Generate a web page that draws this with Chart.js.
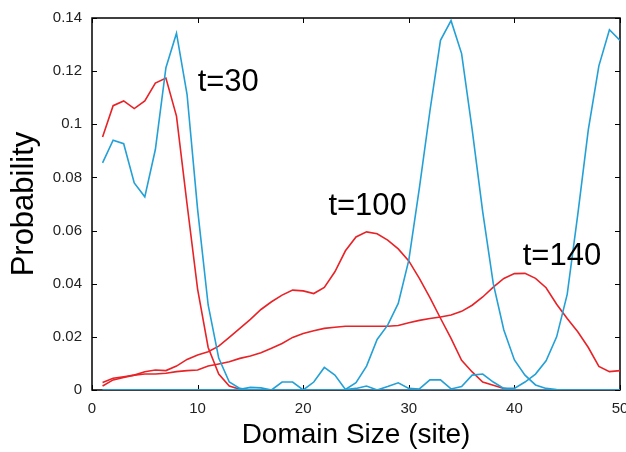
<!DOCTYPE html>
<html>
<head>
<meta charset="utf-8">
<script src="https://cdn.jsdelivr.net/npm/chart.js@4.4.0/dist/chart.umd.min.js"></script>
<style>
    html, body {margin: 0; padding: 0; background: #fff;}
    #wrap {width: 626px; height: 452px;}
</style>
</head>
<body>
<div id="wrap"><canvas id="myChart" width="626" height="452"></canvas></div>
<script>
// domain size (site) 1..50
const sites = [1,2,3,4,5,6,7,8,9,10,11,12,13,14,15,16,17,18,19,20,21,22,23,24,25,
    26,27,28,29,30,31,32,33,34,35,36,37,38,39,40,41,42,43,44,45,46,47,48,49,50];

const red30 = [0.0952,0.107,0.1088,0.1059,0.1088,0.1155,0.1174,0.1031,0.070,0.038,
    0.016,0.006,0.0015,0.0003,0,0,0,0,0,0, 0,0,0,0,0,0,0,0,0,0,
    0,0,0,0,0,0,0,0,0,0, 0,0,0,0,0,0,0,0,0,0];
const blue30 = [0.0855,0.094,0.0927,0.0779,0.0727,0.0905,0.1213,0.1343,0.1113,0.068,
    0.032,0.012,0.003,0.0006,0,0,0,0,0,0, 0,0,0,0,0,0,0,0,0,0,
    0,0,0,0,0,0,0,0,0,0, 0,0,0,0,0,0,0,0,0,0];

const red100 = [0.0028,0.0044,0.005,0.0056,0.0069,0.0075,0.0073,0.009,0.0115,0.0132,
    0.0144,0.0165,0.0198,0.0232,0.0266,0.0303,0.0332,0.0357,0.0376,0.0373,
    0.0363,0.0386,0.0445,0.0524,0.0576,0.0595,0.0588,0.0564,0.0531,0.0486,
    0.042,0.0348,0.027,0.0194,0.0112,0.0068,0.003,0.0018,0.0006,0.0001,
    0,0,0,0,0,0,0,0,0,0];
const blue100 = [0,0,0,0,0,0,0,0,0,0, 0,0,0,0.0003,0.001,0.0008,0,0.003,0.003,0,
    0.003,0.0085,0.0056,0.0002,0.0028,0.009,0.019,0.0244,0.0326,0.0489,
    0.076,0.105,0.1316,0.139,0.1266,0.098,0.067,0.040,0.0226,0.0113,
    0.0056,0.0019,0.0006,0.0002,0,0,0,0,0,0];

const red140 = [0.0015,0.0038,0.0047,0.0056,0.006,0.006,0.0063,0.0069,0.0073,0.0075,
    0.009,0.0098,0.0106,0.0119,0.0128,0.014,0.0157,0.0175,0.0198,0.0213,
    0.0223,0.0232,0.0236,0.024,0.024,0.024,0.024,0.024,0.0243,0.0253,
    0.0262,0.0269,0.0275,0.0282,0.0296,0.0319,0.035,0.0387,0.042,0.0438,
    0.0439,0.042,0.0385,0.0323,0.0269,0.0219,0.016,0.0089,0.0069,0.0073];
const blue140 = [0,0,0,0,0,0,0,0,0,0, 0,0,0,0,0,0,0,0,0,0,
    0,0,0,0.0002,0.0006,0.0015,0,0.0013,0.0027,0.0006,
    0.0004,0.0038,0.0038,0.0004,0.0013,0.0056,0.006,0.003,0.0006,0.0006,
    0.003,0.006,0.011,0.02,0.036,0.066,0.098,0.122,0.1356,0.1316];

const xTickLabels = ['0','10','20','30','40','50'];
const yTickLabels = ['0','0.02','0.04','0.06','0.08','0.1','0.12','0.14'];

// curve labels: text, x, y in data units
const curveLabels = [
    {text: 't=30', x: 12.9, y: 0.1158},
    {text: 't=100', x: 26.1, y: 0.0692},
    {text: 't=140', x: 44.5, y: 0.0503}
];

const RED = 'rgb(232,34,38)';
const BLUE = 'rgb(35,160,214)';
const FONT = "'Liberation Sans', Arial, Helvetica, sans-serif";

function series(values, color) {
    return {
        data: values.map((v, i) => ({x: sites[i], y: v})),
        borderColor: color,
        backgroundColor: color,
        borderWidth: 1.6,
        pointRadius: 0,
        tension: 0,
        fill: false
    };
}

// frame box + inward ticks on all four sides (under the curves), then curve labels
const framePlugin = {
    id: 'frame',
    beforeDatasetsDraw(chart) {
        const {ctx, chartArea: a, scales: {x, y}} = chart;
        ctx.save();
        ctx.strokeStyle = '#000';
        ctx.lineWidth = 1;
        ctx.beginPath();
        x.ticks.forEach(t => {
            const px = Math.round(x.getPixelForValue(t.value)) + 0.5;
            ctx.moveTo(px, a.bottom); ctx.lineTo(px, a.bottom - 5);
            ctx.moveTo(px, a.top); ctx.lineTo(px, a.top + 5);
        });
        y.ticks.forEach(t => {
            const py = Math.round(y.getPixelForValue(t.value)) + 0.5;
            ctx.moveTo(a.left, py); ctx.lineTo(a.left + 5, py);
            ctx.moveTo(a.right, py); ctx.lineTo(a.right - 5, py);
        });
        ctx.stroke();
        ctx.lineWidth = 1.5;
        ctx.strokeRect(a.left, a.top, a.right - a.left, a.bottom - a.top);
        ctx.restore();
    },
    afterDatasetsDraw(chart) {
        const {ctx, scales: {x, y}} = chart;
        ctx.save();
        ctx.fillStyle = '#000';
        ctx.font = '31px ' + FONT;
        ctx.textAlign = 'center';
        ctx.textBaseline = 'middle';
        curveLabels.forEach(l => {
            ctx.fillText(l.text, x.getPixelForValue(l.x), y.getPixelForValue(l.y));
        });
        ctx.restore();
    }
};

const ctx = document.getElementById('myChart').getContext('2d');
const myChart = new Chart(ctx, {
    type: 'line',
    data: {
        datasets: [
            series(blue30, BLUE),
            series(blue100, BLUE),
            series(blue140, BLUE),
            series(red30, RED),
            series(red100, RED),
            series(red140, RED)
        ]
    },
    options: {
        responsive: false,
        animation: false,
        layout: {padding: {top: 18, right: 6, left: 0, bottom: 0}},
        plugins: {legend: {display: false}, tooltip: {enabled: false}},
        scales: {
            x: {
                type: 'linear',
                min: 0, max: 50,
                grid: {display: false, drawTicks: false},
                border: {display: false},
                ticks: {
                    stepSize: 10,
                    padding: 10,
                    maxRotation: 0,
                    color: '#222',
                    font: {family: FONT, size: 15},
                    callback: (v) => xTickLabels[v / 10]
                },
                title: {
                    display: true,
                    text: 'Domain Size (site)',
                    color: '#000',
                    font: {family: FONT, size: 28},
                    padding: {top: 0, bottom: 0}
                },
                afterFit(scale) {
                    scale.height = 62;
                    scale.paddingLeft = 0;
                    scale.paddingRight = 0;
                }
            },
            y: {
                min: 0, max: 0.14,
                grid: {display: false, drawTicks: false},
                border: {display: false},
                ticks: {
                    stepSize: 0.02,
                    padding: 10,
                    color: '#222',
                    font: {family: FONT, size: 15},
                    callback: (v) => yTickLabels[Math.round(v / 0.02)]
                },
                title: {
                    display: true,
                    text: 'Probability',
                    color: '#000',
                    font: {family: FONT, size: 31},
                    padding: {top: 6, bottom: 0}
                },
                afterFit(scale) {
                    scale.width = 92;
                    scale.paddingTop = 0;
                    scale.paddingBottom = 0;
                }
            }
        }
    },
    plugins: [framePlugin]
});
</script>
</body>
</html>
